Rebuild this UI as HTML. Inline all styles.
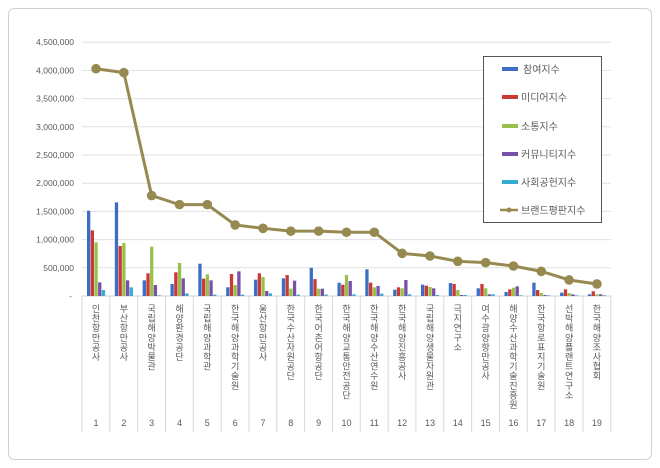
<!DOCTYPE html>
<html><head><meta charset="utf-8"><style>
html,body{margin:0;padding:0;background:#fff;}
svg{display:block;font-family:"Liberation Sans","Noto Sans CJK KR",sans-serif;}
</style></head><body>
<svg width="660" height="468" viewBox="0 0 660 468">
<rect x="8.5" y="8.5" width="643" height="451" rx="6" fill="#fff" stroke="#d0d0d0"/>
<g id="grid" stroke="#e0e0e0" stroke-width="1"></g>
<g id="ylab" font-size="8.5" fill="#595959" text-anchor="end"></g>
<g id="sep" stroke="#d9d9d9" stroke-width="1"></g>
<g id="bars"></g>
<g id="line"></g>
<g id="xlab" font-size="9" fill="#595959" text-anchor="middle"></g>
<g id="num" font-size="9" fill="#595959" text-anchor="middle"></g>
<rect x="483.5" y="56.5" width="118" height="166" fill="#fff" stroke="#555"/>
<g font-size="10" fill="#595959">
<rect x="502" y="67" width="16" height="4" fill="#3b6fc5"/><text x="523" y="73">참여지수</text>
<rect x="502" y="95" width="16" height="4" fill="#c93a35"/><text x="521" y="101">미디어지수</text>
<rect x="502" y="124" width="16" height="4" fill="#98c04c"/><text x="521" y="130">소통지수</text>
<rect x="502" y="152" width="16" height="4" fill="#7a50a8"/><text x="521" y="158">커뮤니티지수</text>
<rect x="502" y="180" width="16" height="4" fill="#36acd0"/><text x="521" y="186">사회공헌지수</text>
<line x1="500" y1="210" x2="518" y2="210" stroke="#968a50" stroke-width="2.5"/><circle cx="509" cy="210" r="2.5" fill="#968a50"/><text x="521" y="214">브랜드평판지수</text>
</g>
</svg>
<script>
var NS="http://www.w3.org/2000/svg";
function el(p,t,a,txt){var e=document.createElementNS(NS,t);for(var k in a)e.setAttribute(k,a[k]);if(txt!=null)e.textContent=txt;document.getElementById(p).appendChild(e);return e;}
var y0=296,per=28.2/500;
function Y(v){return y0-v*per;}
for(var i=1;i<=9;i++){var y=Y(i*500);el('grid','line',{x1:82,x2:611,y1:y,y2:y});el('ylab','text',{x:74,y:y+3},(i*500000).toLocaleString('en-US'));}
el('ylab','text',{x:72,y:y0+3},'-');
el('grid','line',{x1:82,x2:611,y1:y0,y2:y0,stroke:'#d0d0d0'});
var w=27.83;
for(var k=0;k<=19;k++){var x=82+k*w;el('sep','line',{x1:x,x2:x,y1:y0,y2:432});}
var d=[[1513,1164,951,242,106,4030],[1660,886,940,278,154,3960],[278,402,875,195,12,1780],[213,420,585,313,47,1620],[573,307,384,278,24,1620],[154,390,195,437,24,1260],[290,402,337,89,47,1200],[313,372,130,272,24,1150],[500,300,130,130,25,1150],[236,200,372,266,30,1130],[473,236,154,177,41,1130],[112,154,136,284,30,756],[200,183,160,136,18,709],[230,213,106,18,18,615],[136,213,136,30,30,591],[71,118,148,171,12,532],[236,106,53,18,12,437],[59,118,53,30,12,284],[30,83,30,30,12,213]];
var cols=['#3b6fc5','#c93a35','#98c04c','#7a50a8','#36acd0'];
var names=['인천항만공사','부산항만공사','국립해양박물관','해양환경공단','국립해양과학관','한국해양과학기술원','울산항만공사','한국수산자원공단','한국어촌어항공단','한국해양교통안전공단','한국해양수산연수원','한국해양진흥공사','국립해양생물자원관','극지연구소','여수광양항만공사','해양수산과학기술진흥원','한국항로표지기술원','선박해양플랜트연구소','한국해양조사협회'];
var pts=[];
d.forEach(function(r,i){var cx=96+i*w;
for(var j=0;j<5;j++){var h=r[j]*per;el('bars','rect',{x:cx-9+j*3.7,y:y0-h,width:3.3,height:h,fill:cols[j]});}
pts.push(cx+','+Y(r[5]));
var s=names[i];for(var c=0;c<s.length;c++)el('xlab','text',{x:cx,y:312+c*9.6},s[c]);
el('num','text',{x:cx,y:426},String(i+1));
});
el('line','polyline',{points:pts.join(' '),fill:'none',stroke:'#968a50','stroke-width':3,'stroke-linejoin':'round'});
pts.forEach(function(p){var a=p.split(',');el('line','circle',{cx:a[0],cy:a[1],r:4.8,fill:'#968a50'});});
</script>
</body></html>
